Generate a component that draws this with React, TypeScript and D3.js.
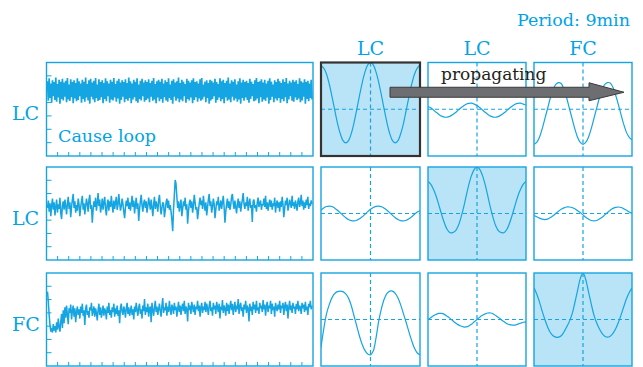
import React from "react";
import * as d3 from "d3";

// ---------- data ----------
const ROW_LABELS = ["LC", "LC", "FC"];
const COL_LABELS = ["LC", "LC", "FC"];
const PERIOD_LABEL = "Period: 9min";
const CAUSE_LABEL = "Cause loop";
const ARROW_LABEL = "propagating";

// lags (min) for correlation panels, -9..9 step 0.5
const LAGS = [-9, -8.5, -8, -7.5, -7, -6.5, -6, -5.5, -5, -4.5, -4, -3.5, -3, -2.5, -2, -1.5, -1, -0.5, 0,
  0.5, 1, 1.5, 2, 2.5, 3, 3.5, 4, 4.5, 5, 5.5, 6, 6.5, 7, 7.5, 8, 8.5, 9];

const C00 = [0.93, 0.88, 0.75, 0.54, 0.27, -0.02, -0.30, -0.52, -0.67, -0.72, -0.67, -0.52, -0.29, -0.01, 0.29, 0.57, 0.80, 0.95, 1.0,
  0.95, 0.80, 0.57, 0.29, -0.01, -0.29, -0.52, -0.67, -0.72, -0.67, -0.52, -0.30, -0.02, 0.27, 0.54, 0.75, 0.88, 0.94];
const C01 = [0.06, 0.03, -0.015, -0.066, -0.11, -0.147, -0.167, -0.17, -0.152, -0.12, -0.076, -0.025, 0.026, 0.072, 0.107, 0.127, 0.13, 0.11, 0.08,
  0.036, -0.015, -0.066, -0.11, -0.147, -0.167, -0.17, -0.152, -0.12, -0.076, -0.025, 0.026, 0.072, 0.107, 0.127, 0.13, 0.11, 0.09];
const C02 = [-0.75, -0.71, -0.60, -0.42, -0.20, 0.02, 0.24, 0.42, 0.53, 0.57, 0.55, 0.42, 0.24, 0.02, -0.20, -0.42, -0.60, -0.71, -0.75,
  -0.71, -0.60, -0.42, -0.20, 0.02, 0.24, 0.42, 0.53, 0.57, 0.56, 0.47, 0.30, 0.10, -0.12, -0.33, -0.50, -0.60, -0.65];
const C10 = [0.07, 0.12, 0.15, 0.16, 0.15, 0.115, 0.07, 0.017, -0.04, -0.09, -0.13, -0.154, -0.16, -0.146, -0.115, -0.07, -0.017, 0.04, 0.09,
  0.13, 0.154, 0.16, 0.146, 0.115, 0.07, 0.017, -0.04, -0.09, -0.13, -0.154, -0.16, -0.146, -0.115, -0.07, -0.017, 0.03, 0.06];
const C11 = [0.69, 0.63, 0.52, 0.37, 0.18, -0.02, -0.20, -0.34, -0.41, -0.41, -0.38, -0.28, -0.11, 0.11, 0.37, 0.62, 0.82, 0.95, 1.0,
  0.95, 0.82, 0.62, 0.37, 0.11, -0.11, -0.28, -0.38, -0.41, -0.41, -0.34, -0.20, -0.02, 0.18, 0.37, 0.52, 0.63, 0.69];
const C12 = [-0.04, -0.07, -0.10, -0.12, -0.13, -0.12, -0.09, -0.05, 0.0, 0.05, 0.09, 0.12, 0.14, 0.14, 0.13, 0.10, 0.06, 0.02, -0.03,
  -0.08, -0.12, -0.15, -0.16, -0.15, -0.12, -0.08, -0.03, 0.02, 0.07, 0.11, 0.13, 0.14, 0.13, 0.10, 0.07, 0.03, 0.0];
const C20 = [-0.6, -0.2, 0.12, 0.32, 0.47, 0.56, 0.60, 0.61, 0.60, 0.55, 0.46, 0.30, 0.08, -0.14, -0.36, -0.54, -0.67, -0.74, -0.76,
  -0.68, -0.40, -0.03, 0.24, 0.44, 0.56, 0.61, 0.61, 0.56, 0.46, 0.31, 0.12, -0.07, -0.27, -0.46, -0.62, -0.72, -0.76];
const C21 = [0.0, 0.04, 0.08, 0.11, 0.13, 0.13, 0.11, 0.07, 0.03, -0.02, -0.07, -0.11, -0.14, -0.16, -0.16, -0.14, -0.10, -0.05, 0.0,
  0.05, 0.09, 0.12, 0.14, 0.14, 0.12, 0.08, 0.04, -0.01, -0.05, -0.09, -0.11, -0.12, -0.12, -0.10, -0.08, -0.06, -0.05];
const C22 = [0.68, 0.55, 0.38, 0.18, 0.0, -0.16, -0.28, -0.35, -0.38, -0.38, -0.35, -0.27, -0.16, -0.04, 0.12, 0.36, 0.62, 0.88, 1.0,
  0.86, 0.60, 0.34, 0.10, -0.07, -0.20, -0.30, -0.36, -0.38, -0.36, -0.30, -0.20, -0.06, 0.10, 0.28, 0.45, 0.58, 0.68];
const CORR = [[C00, C01, C02], [C10, C11, C12], [C20, C21, C22]];

// raw time series (arbitrary units, -100..100)
const S1 = [
  60, 18, 66, 24, 55, 14, 62, 28, 58, 20, 68, 16, 54, 25, 63, 12, 59, 22, 65, 19,
  57, 27, 61, 15, 67, 21, 53, 18, 64, 26, 58, 13, 62, 23, 56, 17, 66, 20, 60, 28,
  55, 14, 63, 22, 59, 16, 68, 25, 54, 19, 62, 12, 65, 27, 57, 21, 61, 15, 67, 24,
  53, 18, 64, 20, 58, 26, 62, 13, 56, 22, 66, 17, 60, 28, 55, 14, 63, 21, 59, 19,
  67, 25, 54, 16, 61, 23, 65, 12, 57, 20, 62, 27, 58, 15, 64, 22, 56, 18, 68, 24,
  60, 13, 55, 21, 63, 26, 59, 17, 66, 14, 53, 22, 61, 19, 65, 28, 57, 16, 62, 20,
  58, 23, 64, 15, 56, 27, 61, 18, 67, 21, 54, 13, 60, 25, 63, 17, 59, 22, 65, 14,
  55, 26, 62, 19, 58, 16, 66, 24, 53, 20, 61, 12, 64, 27, 57, 18, 60, 23, 68, 15,
  56, 21, 63, 17, 59, 28, 54, 14, 65, 22, 61, 19, 57, 25, 62, 13, 66, 20, 58, 26,
  60, 16, 55, 23, 64, 18, 67, 21, 53, 27, 59, 15, 62, 24, 56, 12, 63, 19, 61, 22,
  57, 28, 65, 14, 58, 20, 54, 25, 66, 17, 60, 22, 63, 13, 56, 26, 61, 18, 68, 21,
  55, 15, 62, 27, 59, 19, 64, 23, 53, 16, 60, 21, 66, 12, 57, 24, 63, 18, 58, 25,
  61, 20, 56, 14, 65, 22, 59, 28, 54, 17, 62, 19, 67, 23, 58, 13, 60, 26, 64, 16,
  57, 21, 63, 18, 55, 25, 61, 12, 66, 20, 59, 27, 53, 15, 62, 23, 58, 19, 65, 24,
  60, 14, 56, 22, 64, 17, 58, 26, 67, 13, 55, 21, 61, 28, 57, 18, 63, 16, 59, 25,
  62, 20, 54, 23, 66, 15, 60, 19, 57, 27, 64, 12, 58, 22, 61, 17, 55, 24, 63, 21];
const S2 = [
  12, 28, 4, 22, -6, 18, 32, 8, 24, -4, 15, 30, 2, 20, 10, 34, 0, -12, 18, 26,
  8, 30, 16, -2, 22, 36, 10, 24, -8, 14, 30, 42, 12, 26, 2, 18, 6, 32, 20, -6,
  14, 26, 38, 8, 22, -2, 16, 32, 20, 4, 30, 40, 10, 18, -20, 8, 26, 14, 34, 6,
  22, 44, 16, 30, 2, 14, 32, 8, 24, 36, 10, -4, 20, 30, 6, 26, 14, 38, 18, 2,
  28, 10, 24, 36, 8, 18, 42, 22, 6, 16, 32, 20, 4, -10, 12, 28, 16, 34, 10, 24,
  6, 20, 38, 14, 28, 0, 18, 34, 10, 22, -16, 8, 26, 40, 18, 4, 22, 30, 12, 26,
  2, 16, 34, 22, 8, 30, 14, -6, 20, 36, 10, 26, 18, 4, 28, 40, 16, -2, 12, 24,
  20, -8, 6, 24, 32, 12, 28, 8, 18, 4, -14, -38, 10, 40, 72, 64, 36, 12, 26, 4,
  18, 30, -6, 10, 26, 16, 34, 8, 20, -22, 4, 22, 30, 12, 26, 2, 16, 40, 24, 8,
  14, -12, 4, 22, 34, 18, 28, 10, 38, 20, 6, 24, -4, 12, 30, 42, 16, 26, 2, 14,
  32, 20, -10, 8, 26, 18, 36, 6, 16, 28, 10, 24, 38, 14, -20, 4, 20, 32, 12, 26,
  8, 18, 36, 42, 22, 10, 28, 14, 0, 20, 32, 12, 26, 4, 18, 30, 44, 20, 10, 24,
  16, 36, 6, 22, 32, 12, 18, -18, 26, 30, 12, 18, 4, 24, 34, 14, 22, 28, 8, 20,
  18, 32, 14, 38, 10, 24, 6, 20, 30, 14, 28, 8, 22, 16, 34, 2, 20, 28, 12, 24,
  4, 26, 14, 36, 20, -8, 10, 28, 18, 34, 6, 16, 30, 22, 12, 38, 16, 24, 10, 28,
  18, 6, 26, 34, 14, 22, 40, 16, 28, 8, 24, 12, 30, 18, 36, 10, 22, 16, 28, 20];
const S3 = [
  60, 38, 10, -12, -26, -18, -28, -10, -24, -14, -28, -6, -22, 2, -16, -26, -4, 12, -18, 20,
  -8, 26, 4, 30, 10, -10, 24, 14, 32, 0, 18, 30, 6, 24, -6, 16, 28, 10, 22, 2,
  28, 14, 34, 8, 20, -12, 24, 32, 10, 18, 4, 26, 20, 36, 8, 18, 28, 6, 24, 14,
  -2, 20, 34, 10, 26, 4, 16, 30, 8, 24, 18, 0, 28, 14, 36, 10, 20, 4, 26, 16,
  34, 6, 24, 12, 30, 8, 20, -8, 26, 34, 16, 10, 28, 20, 4, 24, 36, 12, 26, 8,
  18, 30, 10, 22, 0, 28, 16, 36, 20, 8, 26, 34, 12, 22, 2, 30, 18, 44, 10, 26,
  16, 34, 6, 24, 28, -6, 36, 20, 8, 26, 40, 16, 28, 10, 22, 34, 18, 6, 30, 46,
  14, 26, 20, 36, 8, 28, 16, 40, 22, 10, 32, 26, 12, 36, 20, 28, 6, 22, 38, 16,
  30, 10, 26, 34, 18, 40, 12, 28, 22, -4, 36, 20, 30, 12, 38, 26, 16, 32, 10, 28,
  22, 40, 18, 30, 6, 26, 36, 14, 28, 20, 38, 16, 34, 24, 10, 30, 40, 18, 26, 8,
  36, 22, 30, 12, 38, 26, 16, 34, 2, 28, 20, 42, 14, 30, 24, 8, 36, 18, 32, 12,
  28, 40, 20, 34, 10, 26, 38, 16, 30, 22, 44, 12, 28, 36, 18, 26, 6, 32, 22, 40,
  14, 30, 24, -4, 34, 18, 28, 10, 38, 22, 32, 14, 40, 20, 26, 12, 36, 24, 30, 16,
  42, 22, 32, 8, 28, 38, 16, 30, 24, 40, 12, 34, 20, 28, 6, 36, 26, 18, 32, 22,
  40, 14, 30, 24, 36, 10, 28, 38, 18, 32, 2, 26, 40, 20, 30, 14, 36, 24, 28, 12,
  34, 22, 40, 18, 30, 26, 12, 36, 24, 32, 16, 38, 20, 28, 10, 34, 26, 40, 22, 30];
const SERIES = [S1, S2, S3];

// ---------- layout ----------
const W = 643, H = 367;
const ROWS = [[62.5, 156], [167, 260], [273, 366]];
const LEFT = [46.5, 313];
const COLS = [[321, 420], [428, 526], [534, 632]];
const BLUE = "#14a5e2";
const TEXT_BLUE = "#00a3e6";
const FILL = "#b9e3f7";
const FONT = "'DejaVu Serif', serif";
const SERIES_WIDTH = [1.7, 1.5, 1.5];

export default function App() {
  const lagX = (c: number[]) => d3.scaleLinear().domain([-9, 9]).range(c);
  return (
    <svg width={W} height={H} style={{ position: "absolute", left: 0, top: 0, background: "#fff" }}
      fontFamily={FONT}>
      <defs>
        {ROWS.map((r, i) => (
          <clipPath id={`cl${i}`} key={`cl${i}`}>
            <rect x={LEFT[0]} y={r[0]} width={LEFT[1] - LEFT[0]} height={r[1] - r[0]} />
          </clipPath>
        ))}
        {ROWS.map((r, i) => COLS.map((c, j) => (
          <clipPath id={`cp${i}${j}`} key={`cp${i}${j}`}>
            <rect x={c[0]} y={r[0]} width={c[1] - c[0]} height={r[1] - r[0]} />
          </clipPath>
        )))}
      </defs>

      <text x={630} y={26} textAnchor="end" fontSize={17.5} fill={TEXT_BLUE}>{PERIOD_LABEL}</text>
      {COL_LABELS.map((l, j) => (
        <text key={`ct${j}`} x={(COLS[j][0] + COLS[j][1]) / 2} y={55} textAnchor="middle" fontSize={19} fill={TEXT_BLUE}>{l}</text>
      ))}

      {ROWS.map((r, i) => {
        const data = SERIES[i];
        const x = d3.scaleLinear().domain([0, data.length - 1]).range([LEFT[0] + 1, LEFT[1] - 1]);
        const y = d3.scaleLinear().domain([-100, 100]).range([r[1], r[0]]);
        const line = d3.line<number>().x((_, k) => x(k)).y((v) => y(v));
        const yt = d3.range(1, 7).map((k) => r[0] + (k * (r[1] - r[0])) / 7);
        const xt = d3.range(1, 24).map((k) => LEFT[0] + (k * (LEFT[1] - LEFT[0])) / 24);
        return (
          <g key={`row${i}`}>
            <text x={12} y={(r[0] + r[1]) / 2 + 11} fontSize={19} fill={TEXT_BLUE}>{ROW_LABELS[i]}</text>
            <path d={line(data) || ""} fill="none" stroke={BLUE} strokeWidth={SERIES_WIDTH[i]} strokeLinejoin="bevel" clipPath={`url(#cl${i})`} />
            {yt.map((t, k) => <line key={`yt${k}`} x1={LEFT[0]} x2={LEFT[0] + 5} y1={t} y2={t} stroke={BLUE} strokeWidth={1} />)}
            {xt.map((t, k) => <line key={`xt${k}`} x1={t} x2={t} y1={r[1]} y2={r[1] - 4} stroke={BLUE} strokeWidth={1} />)}
            <rect x={LEFT[0]} y={r[0]} width={LEFT[1] - LEFT[0]} height={r[1] - r[0]} fill="none" stroke={BLUE} strokeWidth={1.4} />
            {i === 0 && <text x={58} y={142} fontSize={17.5} fill={TEXT_BLUE}>{CAUSE_LABEL}</text>}

            {COLS.map((c, j) => {
              const xs = lagX(c);
              const ys = d3.scaleLinear().domain([-1, 1]).range([r[1], r[0]]);
              const corr = CORR[i][j];
              const ln = d3.line<number>().x((_, k) => xs(LAGS[k])).y((v) => ys(v)).curve(d3.curveCatmullRom);
              const hl = i === j;
              return (
                <g key={`p${i}${j}`}>
                  <rect x={c[0]} y={r[0]} width={c[1] - c[0]} height={r[1] - r[0]} fill={hl ? FILL : "#fff"} />
                  <line x1={xs(0)} x2={xs(0)} y1={r[0]} y2={r[1]} stroke={BLUE} strokeWidth={1.2} strokeDasharray="4 3" />
                  <line x1={c[0]} x2={c[1]} y1={ys(0)} y2={ys(0)} stroke={BLUE} strokeWidth={1.2} strokeDasharray="4 3" />
                  <path d={ln(corr) || ""} fill="none" stroke={BLUE} strokeWidth={1.2} clipPath={`url(#cp${i}${j})`} />
                  <rect x={c[0]} y={r[0]} width={c[1] - c[0]} height={r[1] - r[0]} fill="none"
                    stroke={i === 0 && j === 0 ? "#333" : BLUE} strokeWidth={i === 0 && j === 0 ? 2.2 : 1.4} />
                </g>
              );
            })}
          </g>
        );
      })}

      {(() => {
        const y = (ROWS[0][0] + ROWS[0][1]) / 2 - 17;
        const x0 = 390, x1 = 624, hw = 35;
        const pts: [number, number][] = [
          [x0, y - 5], [x1 - hw, y - 5], [x1 - hw, y - 9.5], [x1, y], [x1 - hw, y + 8.5], [x1 - hw, y + 5], [x0, y + 5]];
        return (
          <g>
            <path d={(d3.line()(pts) || "") + "Z"} fill="#6d6e71" stroke="#3a3a3a" strokeWidth={1} />
            <text x={441} y={80} fontSize={17} fill="#231f20">{ARROW_LABEL}</text>
          </g>
        );
      })()}
    </svg>
  );
}
